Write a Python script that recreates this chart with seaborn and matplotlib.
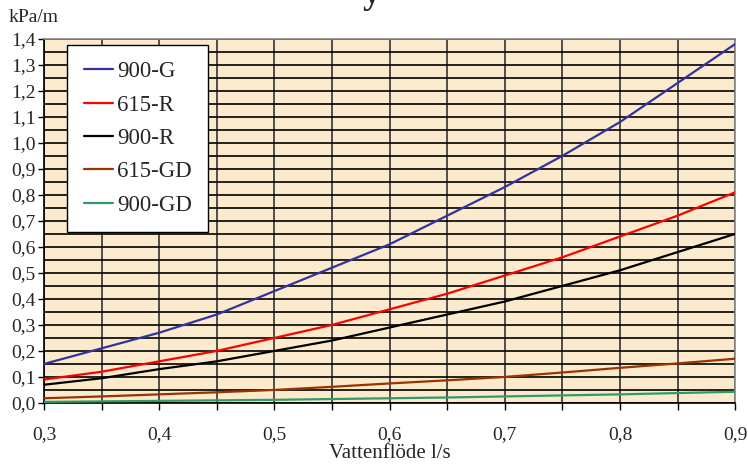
import numpy as np
import pandas as pd
import matplotlib
matplotlib.use("Agg")
import matplotlib.pyplot as plt
import seaborn as sns

# values
flow = [0.30, 0.35, 0.40, 0.45, 0.50, 0.55, 0.60, 0.65, 0.70, 0.75, 0.80, 0.85, 0.90]
g900 = [0.15, 0.21, 0.27, 0.34, 0.43, 0.52, 0.61, 0.72, 0.83, 0.95, 1.08, 1.23, 1.38]
r615 = [0.09, 0.12, 0.16, 0.20, 0.25, 0.30, 0.36, 0.42, 0.49, 0.56, 0.64, 0.72, 0.81]
r900 = [0.07, 0.095, 0.13, 0.16, 0.20, 0.24, 0.29, 0.34, 0.39, 0.45, 0.51, 0.58, 0.65]
gd615 = [0.018, 0.025, 0.033, 0.041, 0.05, 0.062, 0.075, 0.087, 0.10, 0.117, 0.135, 0.152, 0.17]
gd900 = [0.004, 0.006, 0.008, 0.010, 0.012, 0.015, 0.018, 0.021, 0.025, 0.029, 0.033, 0.038, 0.043]

series = ["900-G", "615-R", "900-R", "615-GD", "900-GD"]
colors = ["#33339F", "#FF0000", "#000000", "#993300", "#339966"]

df = pd.concat([
    pd.DataFrame({"flow": flow, "value": vals, "serie": name})
    for name, vals in zip(series, [g900, r615, r900, gd615, gd900])
])

sns.set_style("white")
plt.rcParams["font.family"] = ["Liberation Serif", "DejaVu Serif"]

fig = plt.figure(figsize=(7.48, 4.68), dpi=100)
ax = fig.add_axes([0.0588, 0.139, 0.924, 0.778])
ax.set_facecolor("#FBEBCC")

sns.lineplot(data=df, x="flow", y="value", hue="serie", hue_order=series,
             palette=colors, linewidth=1.6, ax=ax, zorder=3)

ax.set_xlim(0.3, 0.9)
ax.set_ylim(0, 1.4)
ax.set_xticks(np.arange(0.3, 0.901, 0.05))
ax.set_xticklabels([f"{v:.1f}".replace(".", ",") if i % 2 == 0 else ""
                    for i, v in enumerate(np.arange(0.3, 0.901, 0.05))])
ax.set_yticks(np.arange(0, 1.401, 0.1))
ax.set_yticklabels([f"{v:.1f}".replace(".", ",") for v in np.arange(0, 1.401, 0.1)])
ax.set_yticks(np.arange(0.05, 1.4, 0.1), minor=True)
ax.tick_params(axis="x", which="major", length=5, width=1, pad=12, labelsize=14,
               direction="out", bottom=True, color="black")
ax.tick_params(axis="y", which="major", length=4, width=1, pad=2, labelsize=14,
               direction="out", left=True, color="black")
ax.tick_params(axis="y", which="minor", length=0)

ax.grid(True, which="major", axis="y", color="black", linewidth=1.2, zorder=1)
ax.grid(True, which="minor", axis="y", color="black", linewidth=1.2, zorder=1)
ax.grid(True, which="major", axis="x", color="#333333", linewidth=1.2, zorder=1)
ax.set_axisbelow(True)

for side in ["top", "right"]:
    ax.spines[side].set_color("#888888")
    ax.spines[side].set_linewidth(1.2)
for side in ["left", "bottom"]:
    ax.spines[side].set_color("black")
    ax.spines[side].set_linewidth(1.2)

ax.set_xlabel("Vattenflöde l/s", fontsize=15, labelpad=0)
ax.set_ylabel("")
fig.text(0.011, 0.962, "kPa/m", fontsize=14, ha="left", va="center")
# title cut off at the top edge, only the descender shows
fig.text(0.497, 1.012, "y", fontsize=26, fontweight="bold", ha="center", va="center")

leg = ax.legend(loc="upper left", bbox_to_anchor=(0.034, 0.983), fontsize=16.5,
                frameon=True, fancybox=False, edgecolor="black", framealpha=1,
                handlelength=1.27, handletextpad=0.2, labelspacing=0.54,
                borderpad=0.7, borderaxespad=0)
leg.get_frame().set_linewidth(1)
leg.set_zorder(5)

fig.savefig("out.png", dpi=100, facecolor="white")
